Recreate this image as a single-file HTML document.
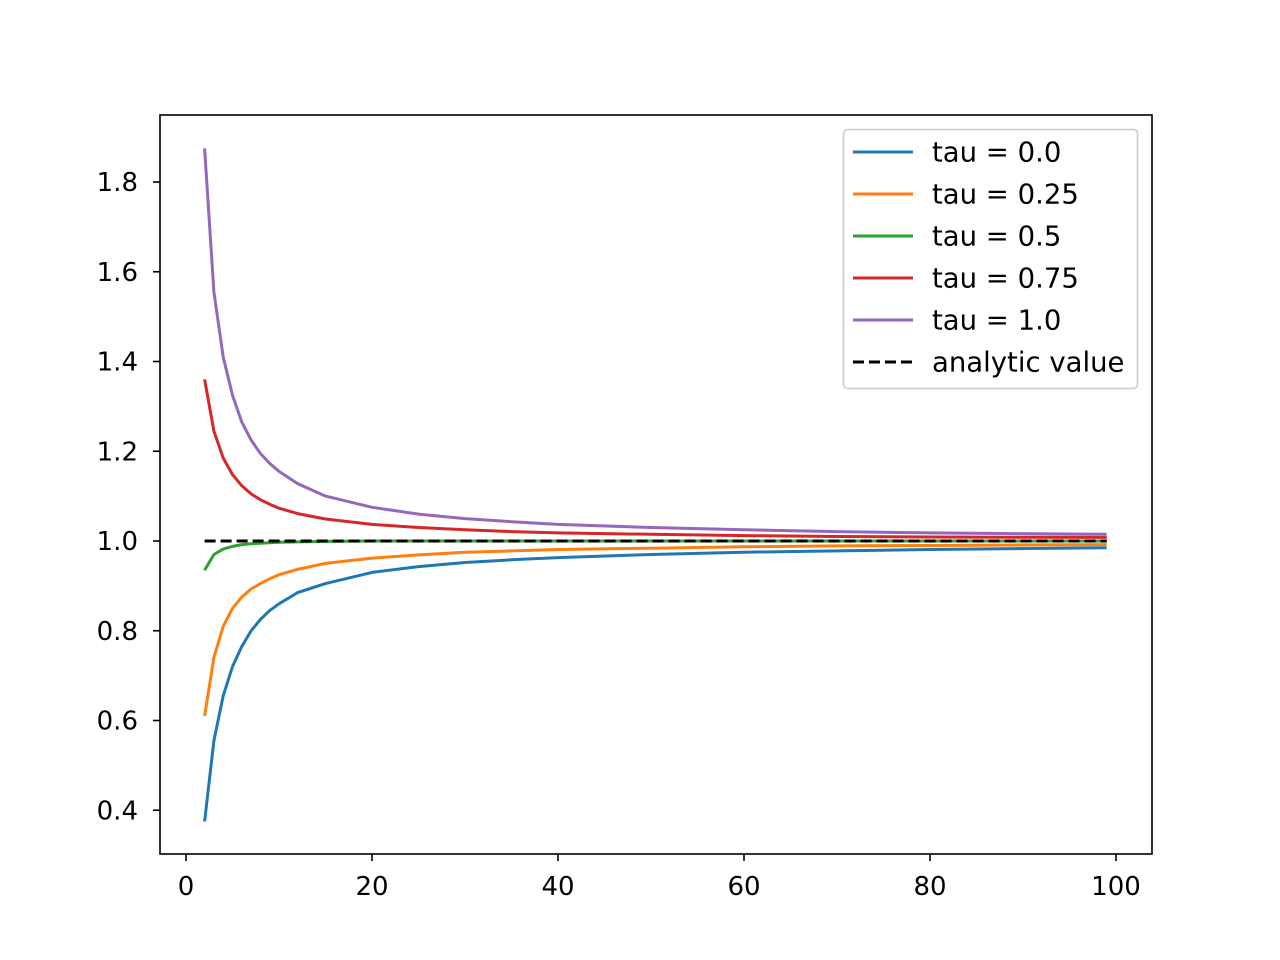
<!DOCTYPE html>
<html><head><meta charset="utf-8"><style>
body{margin:0;background:#fff;}
svg{display:block;font-family:"DejaVu Sans","Liberation Sans",sans-serif;}
</style></head><body>
<svg id="chart" width="1280" height="960" xmlns="http://www.w3.org/2000/svg">
<rect width="1280" height="960" fill="#fff"/>
<g id="plot"></g>
<rect x="160" y="115" width="992" height="739" fill="none" stroke="#000" stroke-width="1.6"/>
<g id="axes"></g>
<g id="legend"></g>
</svg>
<script>
const xs=[2,3,4,5,6,7,8,9,10,12,15,20,25,30,35,40,50,60,70,80,99];
const tau0=[0.375,0.555,0.655,0.72,0.765,0.80,0.825,0.845,0.86,0.885,0.905,0.93,0.943,0.952,0.958,0.963,0.97,0.975,0.978,0.981,0.985];
const tau25=[0.61,0.74,0.81,0.85,0.875,0.893,0.905,0.916,0.925,0.937,0.95,0.962,0.969,0.975,0.978,0.981,0.984,0.987,0.989,0.99,0.992];
const tau5=[0.935,0.97,0.982,0.988,0.992,0.994,0.995,0.996,0.997,0.998,0.999,1.0,1.0,1.0,1.0,1.0,1.0,1.0,1.0,1.0,1.0];
const tau75=[1.36,1.245,1.185,1.148,1.123,1.105,1.092,1.082,1.073,1.061,1.049,1.037,1.030,1.025,1.021,1.018,1.015,1.012,1.010,1.009,1.008];
const tau1=[1.875,1.555,1.41,1.325,1.265,1.225,1.195,1.173,1.155,1.128,1.10,1.075,1.06,1.05,1.043,1.037,1.03,1.025,1.021,1.018,1.015];
const analytic=[1,1];
const analyticX=[2,99];
const xTicks=[0,20,40,60,80,100];
const yTicks=[0.4,0.6,0.8,1.0,1.2,1.4,1.6,1.8];
const labels=["tau = 0.0","tau = 0.25","tau = 0.5","tau = 0.75","tau = 1.0","analytic value"];
const colors=["#1f77b4","#ff7f0e","#2ca02c","#d62728","#9467bd","#000"];

const NS="http://www.w3.org/2000/svg";
const X=v=>186+v*9.3;
const Y=v=>541-(v-1)*448.75;
function mk(tag,attrs,parent){const e=document.createElementNS(NS,tag);for(const k in attrs)e.setAttribute(k,attrs[k]);parent.appendChild(e);return e;}
const plot=document.getElementById('plot'),axes=document.getElementById('axes'),leg=document.getElementById('legend');
const series=[[xs,tau0],[xs,tau25],[xs,tau5],[xs,tau75],[xs,tau1],[analyticX,analytic]];
const names=["line-tau-0","line-tau-025","line-tau-05","line-tau-075","line-tau-1","line-analytic"];
const order=[0,1,2,3,4,5];
order.forEach(i=>{
  const [sx,sy]=series[i];
  const pts=sx.map((x,j)=>X(x).toFixed(1)+","+Y(sy[j]).toFixed(1)).join(" ");
  const p=mk('polyline',{points:pts,fill:'none',stroke:colors[i],'stroke-width':3,'stroke-linejoin':'round'},plot);
  if(i===5)p.setAttribute('stroke-dasharray','11,5');
  
  
});
xTicks.forEach(t=>{
  const l=mk('line',{x1:X(t),x2:X(t),y1:854,y2:861,stroke:'#000','stroke-width':1.6},axes);
  
  
  const tx=mk('text',{x:X(t),y:895,'text-anchor':'middle','font-size':26},axes);
  tx.textContent=t;
  
  
});
yTicks.forEach(t=>{
  const l=mk('line',{x1:153,x2:160,y1:Y(t),y2:Y(t),stroke:'#000','stroke-width':1.6},axes);
  
  
  const tx=mk('text',{x:138,y:Y(t)+9,'text-anchor':'end','font-size':26},axes);
  tx.textContent=t.toFixed(1);
  
  
});
const box=mk('rect',{x:843.5,y:129.5,width:294,height:259,rx:4,fill:'#fff','fill-opacity':0.8,stroke:'#ccc','stroke-width':1.6},leg);


labels.forEach((lb,i)=>{
  const y=152+i*42;
  const l=mk('line',{x1:853,x2:913,y1:y,y2:y,stroke:colors[i],'stroke-width':3},leg);
  if(i===5)l.setAttribute('stroke-dasharray','11,5');
  
  
  const t=mk('text',{x:932,y:y+9.5,'font-size':27.5},leg);
  t.textContent=lb;
  
  
});
</script>
</body></html>
